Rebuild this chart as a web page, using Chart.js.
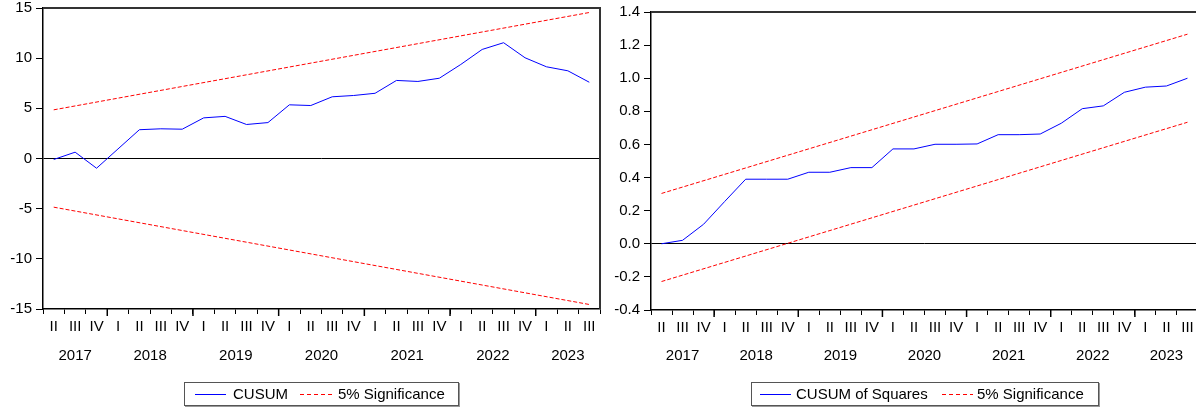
<!DOCTYPE html>
<html>
<head>
<meta charset="utf-8">
<script src="https://cdn.jsdelivr.net/npm/chart.js@4"></script>
<style>
    html, body { margin: 0; padding: 0; background: #fff; overflow: hidden; width: 1196px; height: 407px; }
    canvas { position: absolute; top: 0; }
    #cusum { left: 0; }
    #cusumsq { left: 600px; }
    .legend { position: absolute; top: 382px; height: 22px; border: 1px solid #555; box-shadow: 1px 1px 0 #999;
              font: 15px "Liberation Sans", Arial, sans-serif; color: #000; background: #fff; }
    .legend span { position: absolute; }
    .legend .txt { top: 2px; white-space: nowrap; }
    .legend .solid { top: 11px; height: 1px; background: #0000ff; }
    .legend .dash { top: 11px; height: 1px; background: repeating-linear-gradient(to right, #ff0000 0 4px, transparent 4px 7px); }
</style>
</head>
<body>
<canvas id="cusum" width="601" height="407"></canvas>
<canvas id="cusumsq" width="598" height="407"></canvas>

<div class="legend" style="left:184px; width:273px;">
    <span class="solid" style="left:10px; width:31px;"></span>
    <span class="txt" style="left:48px;">CUSUM</span>
    <span class="dash" style="left:115px; width:33px;"></span>
    <span class="txt" style="left:153px;">5% Significance</span>
</div>
<div class="legend" style="left:751px; width:346px;">
    <span class="solid" style="left:8px; width:31px;"></span>
    <span class="txt" style="left:44px;">CUSUM of Squares</span>
    <span class="dash" style="left:190px; width:31px;"></span>
    <span class="txt" style="left:225px;">5% Significance</span>
</div>

<script>
// quarterly periods, "year quarter"
var periods = [
    '2017 II', '2017 III', '2017 IV',
    '2018 I', '2018 II', '2018 III', '2018 IV',
    '2019 I', '2019 II', '2019 III', '2019 IV',
    '2020 I', '2020 II', '2020 III', '2020 IV',
    '2021 I', '2021 II', '2021 III', '2021 IV',
    '2022 I', '2022 II', '2022 III', '2022 IV',
    '2023 I', '2023 II', '2023 III'
];

var cusum = [-0.1, 0.63, -0.97, 0.95, 2.87, 2.96, 2.92, 4.05, 4.2, 3.39, 3.58, 5.35, 5.28,
             6.15, 6.28, 6.5, 7.78, 7.68, 8.0, 9.37, 10.87, 11.54, 10.04, 9.14, 8.74, 7.6];
var cusumUpper = [4.85, 14.55];
var cusumLower = [-4.85, -14.55];

var cusumSq = [0.0, 0.021, 0.118, 0.255, 0.39, 0.39, 0.39, 0.432, 0.432, 0.46, 0.46, 0.573, 0.573,
               0.601, 0.601, 0.603, 0.659, 0.659, 0.663, 0.728, 0.816, 0.833, 0.915, 0.946, 0.953, 1.0];
var sqUpper = [0.304, 1.266];
var sqLower = [-0.228, 0.734];

var FONT = '"Liberation Sans", Arial, sans-serif';

function quarterOf(label) { return label.split(' ')[1]; }
function yearOf(label) { return label.split(' ')[0]; }

// straight band line from first to last period
function bandLine(ends) {
    return [{ x: periods[0], y: ends[0] }, { x: periods[periods.length - 1], y: ends[1] }];
}

// top and right edges of the plot frame
var framePlugin = {
    id: 'frame',
    afterDraw: function (chart) {
        var a = chart.chartArea, ctx = chart.ctx;
        ctx.save();
        ctx.strokeStyle = '#333';
        ctx.lineWidth = 2;
        ctx.beginPath();
        ctx.moveTo(a.left, a.top);
        ctx.lineTo(a.right, a.top);
        ctx.lineTo(a.right, a.bottom);
        ctx.stroke();
        ctx.restore();
    }
};

// longer ticks at year starts and year labels under the quarters
var yearPlugin = {
    id: 'years',
    afterDraw: function (chart) {
        var x = chart.scales.x, ctx = chart.ctx, bottom = chart.chartArea.bottom;
        ctx.save();
        ctx.strokeStyle = '#000';
        ctx.lineWidth = 1.5;
        for (var i = 1; i < periods.length; i++) {
            if (quarterOf(periods[i]) === 'I') {
                var px = (x.getPixelForValue(i - 1) + x.getPixelForValue(i)) / 2;
                ctx.beginPath();
                ctx.moveTo(px, bottom);
                ctx.lineTo(px, bottom + 7);
                ctx.stroke();
            }
        }
        ctx.fillStyle = '#000';
        ctx.font = '15px ' + FONT;
        ctx.textAlign = 'center';
        ctx.textBaseline = 'alphabetic';
        var first = 0;
        for (var j = 1; j <= periods.length; j++) {
            if (j === periods.length || yearOf(periods[j]) !== yearOf(periods[first])) {
                var cx = (x.getPixelForValue(first) + x.getPixelForValue(j - 1)) / 2;
                ctx.fillText(yearOf(periods[first]), cx, 360);
                first = j;
            }
        }
        ctx.restore();
    }
};

function makeChart(id, cfg) {
    var ctx = document.getElementById(id).getContext('2d');
    var canvasH = 407;
    return new Chart(ctx, {
        type: 'line',
        data: {
            labels: periods,
            datasets: [
                { label: cfg.name, data: cfg.values, borderColor: '#0000ff', borderWidth: 1, order: 1 },
                { label: '5% Significance', data: bandLine(cfg.upper), borderColor: '#ff0000', borderWidth: 1, borderDash: [4, 2] },
                { label: '5% Significance', data: bandLine(cfg.lower), borderColor: '#ff0000', borderWidth: 1, borderDash: [4, 2] }
            ]
        },
        options: {
            responsive: false,
            animation: false,
            devicePixelRatio: 1,
            layout: { padding: { top: cfg.top, right: cfg.right, left: 0, bottom: 0 } },
            elements: { point: { radius: 0 }, line: { tension: 0 } },
            plugins: { legend: { display: false }, tooltip: { enabled: false } },
            scales: {
                x: {
                    type: 'category',
                    offset: true,
                    afterFit: function (s) {
                        s.height = canvasH - cfg.bottom;
                        s.paddingLeft = 0;
                        s.paddingRight = 0;
                    },
                    grid: {
                        offset: true,
                        drawOnChartArea: false,
                        tickLength: 5,
                        tickColor: '#000',
                        tickWidth: 1
                    },
                    border: { color: '#000', width: 1.5 },
                    ticks: {
                        autoSkip: false,
                        maxRotation: 0,
                        padding: 4,
                        color: '#000',
                        font: { family: FONT, size: 15 },
                        callback: function (v) { return quarterOf(this.getLabelForValue(v)); }
                    }
                },
                y: {
                    min: cfg.min,
                    max: cfg.max,
                    afterFit: function (s) {
                        s.width = cfg.axisWidth;
                        s.paddingTop = 0;
                        s.paddingBottom = 0;
                    },
                    grid: {
                        color: function (c) { return c.tick && Math.abs(c.tick.value) < 1e-9 ? '#000' : 'rgba(0,0,0,0)'; },
                        lineWidth: 1,
                        tickColor: '#000',
                        tickLength: 7
                    },
                    border: { color: '#000', width: 1.5 },
                    ticks: {
                        stepSize: cfg.step,
                        padding: 4,
                        color: '#000',
                        font: { family: FONT, size: 15 },
                        callback: cfg.format
                    }
                }
            }
        },
        plugins: [framePlugin, yearPlugin]
    });
}

makeChart('cusum', {
    name: 'CUSUM', values: cusum, upper: cusumUpper, lower: cusumLower,
    min: -15, max: 15, step: 5, top: 8, right: 1, bottom: 309, axisWidth: 43,
    format: function (v) { return String(v); }
});

makeChart('cusumsq', {
    name: 'CUSUM of Squares', values: cusumSq, upper: sqUpper, lower: sqLower,
    min: -0.4, max: 1.4, step: 0.2, top: 12, right: 0, bottom: 310, axisWidth: 51,
    format: function (v) { return Math.abs(v) < 1e-9 ? '0.0' : v.toFixed(1); }
});
</script>
</body>
</html>
